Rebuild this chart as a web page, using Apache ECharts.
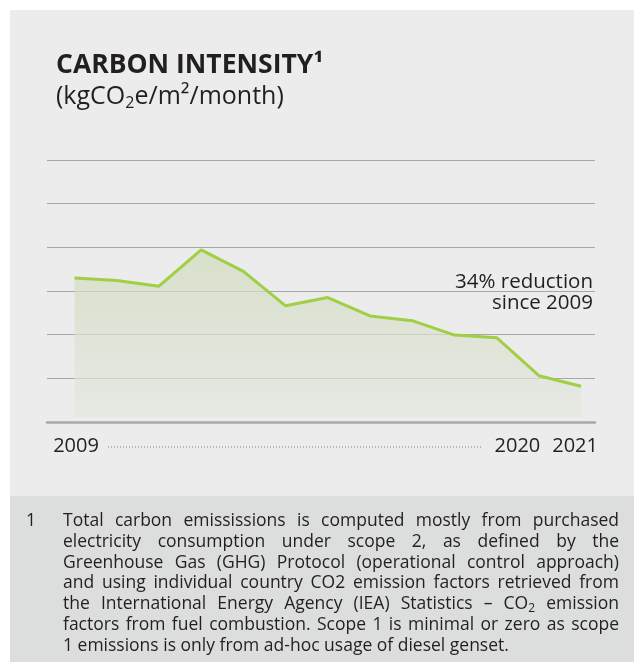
<!DOCTYPE html>
<html>
<head>
<meta charset="utf-8">
<script src="https://cdn.jsdelivr.net/npm/echarts@6/dist/echarts.min.js"></script>
<style>
  html, body { margin: 0; padding: 0; background: #ffffff; }
  #chart { width: 634px; height: 662px; }
</style>
</head>
<body>
<div id="chart"></div>
<script>
// Carbon intensity per year (kgCO2e/m2/month)
const years = [2009, 2010, 2011, 2012, 2013, 2014, 2015, 2016, 2017, 2018, 2019, 2020, 2021];
const intensity = [7.30, 7.24, 7.11, 7.94, 7.45, 6.66, 6.85, 6.43, 6.32, 5.99, 5.93, 5.06, 4.82];
const yearTickLabels = [2009, 2020, 2021];

const titleText = 'CARBON INTENSITY¹';
const unitParts = ['(kgCO', '2', 'e/m²/month)'];

const footnoteMarker = '1';
const footnoteLines = [
  'Total carbon emississions is computed mostly from purchased',
  'electricity consumption under scope 2, as defined by the',
  'Greenhouse Gas (GHG) Protocol (operational control approach)',
  'and using individual country CO2 emission factors retrieved from',
  'the International Energy Agency (IEA) Statistics – CO₂ emission',
  'factors from fuel combustion. Scope 1 is minimal or zero as scope',
  '1 emissions is only from ad-hoc usage of diesel genset.'
];

const FONT = '"Open Sans", "Noto Sans", sans-serif';
const INK = '#231f20';

const reduction = Math.round((1 - intensity[intensity.length - 1] / intensity[0]) * 100);

// --- justified footnote, one text element per word ---
const measureCtx = document.createElement('canvas').getContext('2d');
function measure(str, size) {
  measureCtx.font = size + 'px ' + FONT;
  return measureCtx.measureText(str).width;
}
const noteSize = 17.5, subSize = 12;
function wordWidth(w) {
  if (w.indexOf('₂') >= 0) {
    const parts = w.split('₂');
    return measure(parts[0], noteSize) + measure('2', subSize) + measure(parts[1] || '', noteSize);
  }
  return measure(w, noteSize);
}
function wordText(w) {
  if (w.indexOf('₂') >= 0) {
    const parts = w.split('₂');
    return parts[0] + '{sub|2}' + (parts[1] || '');
  }
  return w;
}
const noteLeft = 63, noteRight = 619, noteTop = 521, noteStep = 20.8;
const footnoteEls = [];
footnoteLines.forEach(function (line, i) {
  const words = line.split(' ');
  const widths = words.map(wordWidth);
  const total = widths.reduce(function (a, b) { return a + b; }, 0);
  const isLast = i === footnoteLines.length - 1;
  const gap = isLast ? measure(' ', noteSize) : (noteRight - noteLeft - total) / (words.length - 1);
  let x = noteLeft;
  words.forEach(function (w, j) {
    footnoteEls.push({
      type: 'text',
      x: x,
      y: noteTop + i * noteStep,
      style: {
        text: wordText(w),
        font: noteSize + 'px ' + FONT,
        fill: INK,
        verticalAlign: 'middle',
        rich: {
          sub: { fontSize: subSize, fontFamily: FONT, fill: INK, padding: [9, 0, 0, 0] }
        }
      }
    });
    x += widths[j] + gap;
  });
});

const chart = echarts.init(document.getElementById('chart'), null, { renderer: 'canvas' });

chart.setOption({
  backgroundColor: '#ffffff',
  animation: false,
  grid: { left: 47, right: 39, top: 160, bottom: 240 },
  xAxis: {
    type: 'value',
    min: 2008.3486,
    max: 2021.3293,
    splitLine: { show: false },
    axisTick: { show: false },
    axisLabel: { show: false },
    axisLine: { show: true, lineStyle: { color: '#a8a9ab', width: 2.5 } }
  },
  yAxis: {
    type: 'value',
    min: 4,
    max: 10,
    interval: 1,
    axisLine: { show: false },
    axisTick: { show: false },
    axisLabel: { show: false },
    splitLine: { show: true, lineStyle: { color: '#a6a7a9', width: 1 } }
  },
  series: [{
    type: 'line',
    data: years.map(function (y, i) { return [y, intensity[i]]; }),
    symbol: 'none',
    lineStyle: { color: '#a0cf45', width: 3 },
    areaStyle: {
      origin: 4.11,
      color: new echarts.graphic.LinearGradient(0, 0, 0, 1, [
        { offset: 0, color: '#d0dbbd' },
        { offset: 1, color: '#e5e7e0' }
      ])
    },
    z: 3
  }]
});

// Year labels sit under the axis, nudged sideways from their tick position
const yearLabelShift = { 2009: 1.5, 2020: -21.5, 2021: -6 };
const yearLabelEls = yearTickLabels.map(function (yr) {
  const px = chart.convertToPixel({ xAxisIndex: 0 }, yr);
  return {
    type: 'text', x: px + yearLabelShift[yr], y: 446,
    style: { text: String(yr), font: '20px ' + FONT, fill: INK, align: 'center', verticalAlign: 'middle' }
  };
});

chart.setOption({
  graphic: [
    { type: 'rect', z: -20, shape: { x: 10, y: 10, width: 624, height: 486 }, style: { fill: '#ebeceb' } },
    { type: 'rect', z: -20, shape: { x: 10, y: 496, width: 624, height: 166 }, style: { fill: '#dcdddd' } },
    {
      type: 'text', x: 56, y: 65,
      style: { text: titleText, font: 'bold 26.5px ' + FONT, fill: INK, verticalAlign: 'middle' }
    },
    {
      type: 'text', x: 56, y: 97,
      style: {
        text: '{a|' + unitParts[0] + '}{s|' + unitParts[1] + '}{a|' + unitParts[2] + '}',
        verticalAlign: 'middle',
        rich: {
          a: { fontSize: 25, fontFamily: FONT, fill: INK },
          s: { fontSize: 16, fontFamily: FONT, fill: INK, padding: [13, 0, 0, 0] }
        }
      }
    },
    {
      type: 'text', x: 593, y: 292.5,
      style: {
        text: reduction + '% reduction\nsince ' + years[0],
        font: '20.5px ' + FONT, fill: INK,
        align: 'right', verticalAlign: 'middle', lineHeight: 21.6
      }
    },
    {
      type: 'line',
      shape: { x1: 108, y1: 447, x2: 481, y2: 447 },
      style: { stroke: '#808080', lineWidth: 1, lineDash: [1, 2] }
    },
    {
      type: 'text', x: 31, y: noteTop,
      style: { text: footnoteMarker, font: noteSize + 'px ' + FONT, fill: INK, align: 'center', verticalAlign: 'middle' }
    }
  ].concat(yearLabelEls, footnoteEls)
});
</script>
</body>
</html>
